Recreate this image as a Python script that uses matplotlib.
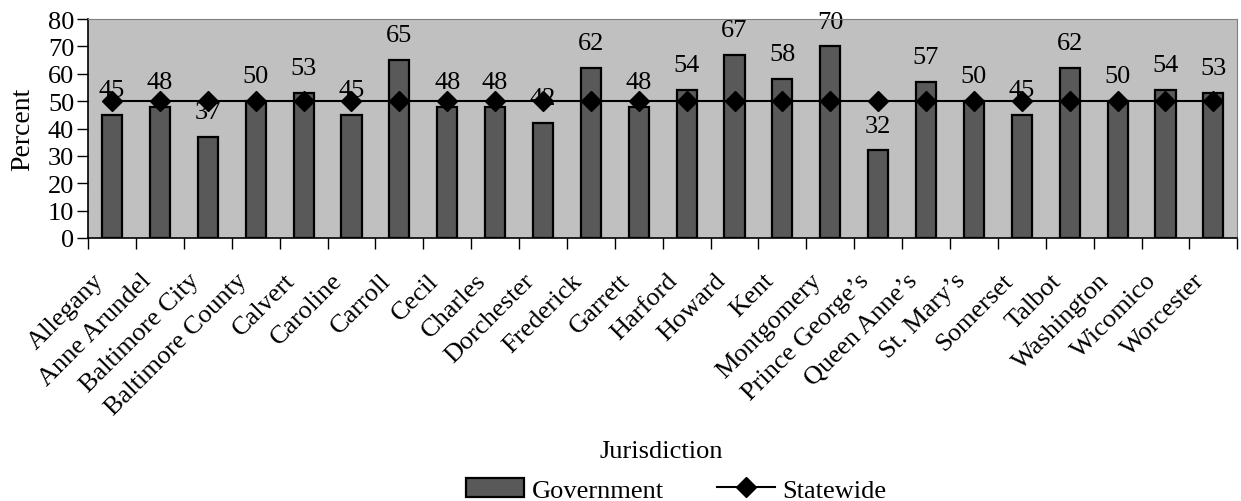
import numpy as np
import matplotlib.pyplot as plt
from matplotlib.transforms import ScaledTranslation

plt.rcParams['font.family'] = ['Liberation Serif', 'DejaVu Serif']

jurisdictions = ["Allegany", "Anne Arundel", "Baltimore City", "Baltimore County",
                 "Calvert", "Caroline", "Carroll", "Cecil", "Charles", "Dorchester",
                 "Frederick", "Garrett", "Harford", "Howard", "Kent", "Montgomery",
                 "Prince George\u2019s", "Queen Anne\u2019s", "St. Mary\u2019s", "Somerset",
                 "Talbot", "Washington", "Wicomico", "Worcester"]
government = [45, 48, 37, 50, 53, 45, 65, 48, 48, 42, 62, 48, 54, 67, 58, 70,
              32, 57, 50, 45, 62, 50, 54, 53]
statewide = [50] * len(jurisdictions)

x = np.arange(len(jurisdictions))

fig = plt.figure(figsize=(12.41, 5.02), dpi=100)
ax = fig.add_axes([0.071, 0.524, 0.926, 0.436])
ax.set_facecolor('#c0c0c0')

bars = ax.bar(x, government, width=0.42, color='#595959', edgecolor='black',
              linewidth=1.6, label='Government', zorder=2)
line, = ax.plot(x, statewide, color='black', linewidth=1.5, marker='D', markersize=10.5,
                label='Statewide', zorder=3)

# value labels sit under the statewide markers
for xi, v in zip(x, government):
    ax.annotate(str(v), (xi, v), xytext=(0, 10), textcoords='offset points',
                ha='center', va='bottom', fontsize=19, zorder=2.5)

ax.set_xlim(-0.5, len(jurisdictions) - 0.5)
ax.set_ylim(0, 80)
ax.set_yticks(range(0, 81, 10))
ax.set_xticks(x)
ax.set_xticklabels(jurisdictions, rotation=45, ha='right', rotation_mode='anchor',
                   fontsize=19)
ax.set_xticks(np.arange(-0.5, len(jurisdictions), 1), minor=True)
ax.tick_params(axis='x', which='major', length=0, pad=8)
ax.tick_params(axis='x', which='minor', length=8, width=1, direction='out')
ax.tick_params(axis='y', length=8, width=1, direction='out', labelsize=19, pad=2)

# push the slanted names down-left along their own direction
shift = ScaledTranslation(-0.2, -0.2, fig.dpi_scale_trans)
for tick in ax.xaxis.get_major_ticks():
    tick.label1.set_transform(tick.label1.get_transform() + shift)

for side in ['top', 'right']:
    ax.spines[side].set_color('#808080')
ax.spines['left'].set_linewidth(1.2)
ax.spines['bottom'].set_linewidth(1.2)

ax.set_ylabel('Percent', fontsize=20, labelpad=9)
fig.text(0.533, 0.1, 'Jurisdiction', ha='center', va='center', fontsize=19)

fig.legend(handles=[bars, line], loc='center', bbox_to_anchor=(0.545, 0.022), ncol=2,
           frameon=False, fontsize=19, handlelength=2.2, columnspacing=2,
           handletextpad=0.3)

fig.savefig('out.png', dpi=100)
